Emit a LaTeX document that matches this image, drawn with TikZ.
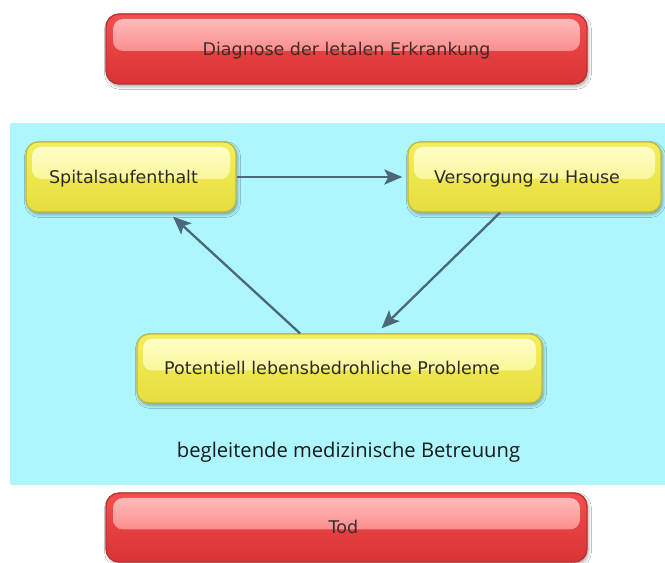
\documentclass[tikz,border=0pt]{standalone}
\usepackage{fontspec}
\setmainfont{DejaVu Sans}
\newfontfamily\notefont{Open Sans}
\usetikzlibrary{arrows.meta,shadows.blur,calc}

\definecolor{panelcyan}{HTML}{ADF6FD}
\definecolor{redline}{HTML}{B83232}
\definecolor{redtop}{HTML}{F44E4E}
\definecolor{redbot}{HTML}{D83434}
\definecolor{redhitop}{HTML}{FFC2C2}
\definecolor{redhibot}{HTML}{F85E5E}
\definecolor{redtext}{HTML}{402A2A}
\definecolor{yelline}{HTML}{C0B944}
\definecolor{yeltop}{HTML}{F4EE5C}
\definecolor{yelbot}{HTML}{E6DE3E}
\definecolor{yelhitop}{HTML}{FFFFD0}
\definecolor{yelhibot}{HTML}{F5EF66}
\definecolor{yeltext}{HTML}{2C2B22}
\definecolor{arrowc}{HTML}{4C6878}

\tikzset{
  boxfont/.style={font=\fontsize{17.5}{20}\selectfont, text height=12.8pt, text depth=0pt},
  softshadow/.style={blur shadow={shadow xshift=1.5pt, shadow yshift=-2.5pt,
      shadow opacity=35, shadow blur radius=3pt}},
  redbox/.style={draw=redline, line width=1.3pt, rounded corners=13pt,
    minimum width=481pt, minimum height=70pt,
    top color=redtop, bottom color=redbot, text=redtext, boxfont, softshadow,
    path picture={\shade[top color=redhitop, bottom color=redhibot, rounded corners=10pt]
      ($(path picture bounding box.north west)+(7pt,-5pt)$) rectangle
      ($(path picture bounding box.east)+(-7pt,-2pt)$);}},
  yelbox/.style={draw=yelline, line width=1.3pt, rounded corners=12pt,
    minimum height=70pt,
    top color=yeltop, bottom color=yelbot, text=yeltext, boxfont, softshadow,
    execute at end node={\kern15pt},
    path picture={\shade[top color=yelhitop, bottom color=yelhibot, rounded corners=9pt]
      ($(path picture bounding box.north west)+(6pt,-5pt)$) rectangle
      ($(path picture bounding box.east)+(-6pt,-2pt)$);}},
  conn/.style={draw=arrowc, line width=2.3pt,
    -{Stealth[length=18pt,width=15pt,inset=4pt]}},
}

\begin{document}
\begin{tikzpicture}[x=1pt,y=1pt]
  \useasboundingbox (0,0) rectangle (665,563);
  \fill[white] (0,0) rectangle (665,563);

  % background panel for the care cycle
  \fill[panelcyan] (10,78) rectangle (665,440);

  \node[redbox] (diag) at (346.5,514) {Diagnose der letalen Erkrankung};

  \node[yelbox, minimum width=210pt] (spital) at (131,386) {Spitalsaufenthalt};
  \node[yelbox, minimum width=253pt] (haus) at (534.5,386) {Versorgung zu Hause};
  \node[yelbox, minimum width=405pt, minimum height=69pt] (probl) at (339.5,194.5)
    {Potentiell lebensbedrohliche Probleme};

  \node[font=\notefont\fontsize{20.2}{23}\selectfont, text=black!90] (care) at (348.5,111)
    {begleitende medizinische Betreuung};

  \node[redbox, minimum height=69pt] (tod) at (346.5,35.5) {Tod\kern6pt};

  % cycle of care
  \draw[conn, shorten >=5pt] (spital.east) -- (haus.west);
  \draw[conn] ([xshift=-34.5pt]haus.south) -- ([xshift=42pt,yshift=5pt]probl.north);
  \draw[conn] ([xshift=-39.5pt]probl.north) -- ([xshift=42pt,yshift=-4pt]spital.south);
\end{tikzpicture}
\end{document}
